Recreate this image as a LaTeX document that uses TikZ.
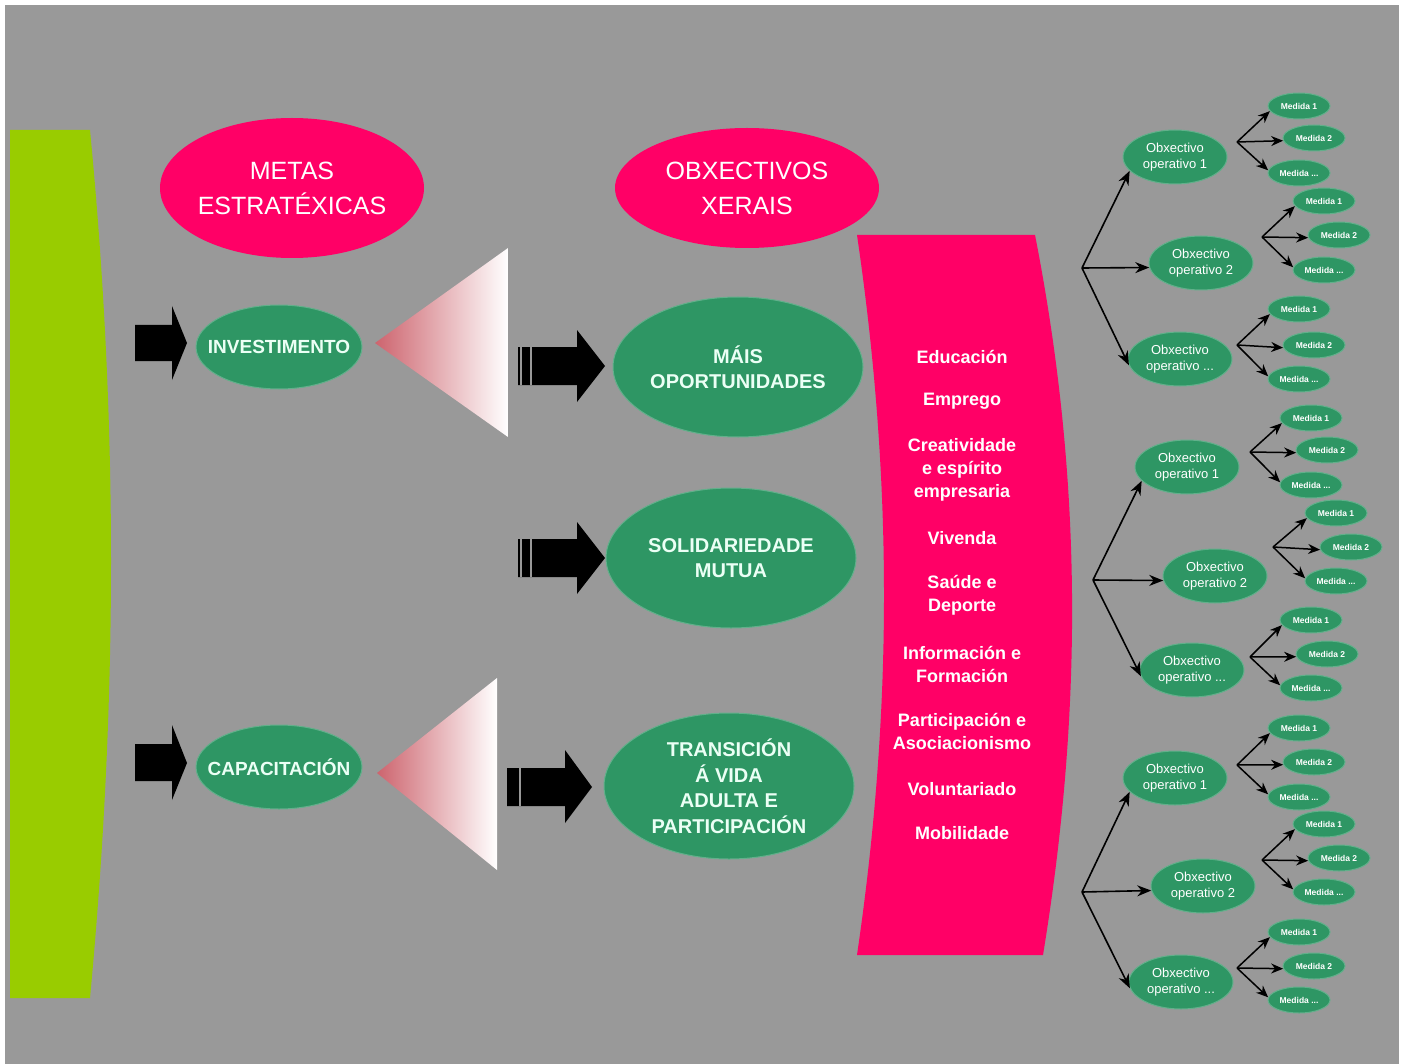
\documentclass[tikz,border=0pt]{standalone}
\usepackage{fontspec}
\setmainfont{Liberation Sans}
\usetikzlibrary{shapes.geometric,arrows.meta}
\definecolor{bggray}{RGB}{153,153,153}
\definecolor{pinkr}{RGB}{255,0,102}
\definecolor{gren}{RGB}{46,150,100}
\definecolor{lime}{RGB}{153,204,0}
\definecolor{trired}{RGB}{205,100,110}
\definecolor{gtxt}{RGB}{235,255,245}
\tikzset{
  pinkell/.style={ellipse, fill=pinkr, inner sep=0pt},
  greenell/.style={ellipse, fill=gren, draw=gren!75!white, line width=1pt, inner sep=0pt},
  titletext/.style={text=white, font=\fontsize{25}{35}\selectfont, align=center},
  gtext/.style={text=gtxt, font=\bfseries\fontsize{20}{25.5}\selectfont, align=center},
  bandtext/.style={text=white, font=\bfseries\fontsize{18}{23}\selectfont, align=center},
  opell/.style={greenell, minimum width=104pt, minimum height=54pt, text=white, font=\fontsize{13}{16}\selectfont, align=center},
  medell/.style={greenell, minimum width=62pt, minimum height=26pt, text=white, font=\bfseries\fontsize{8.5}{10}\selectfont},
  treearrow/.style={-{Stealth[length=14pt,width=11pt]}, line width=1.6pt},
  subarrow/.style={-{Stealth[length=12pt,width=10pt]}, line width=1.5pt},
  blockarrow/.style={fill=black},
  stripe/.style={draw=bggray, line width=1.2pt},
  tri/.style={left color=trired, right color=white}
}
\newcommand\mytrio[5]{%
  \coordinate (#1s) at (#2);
  \node[medell] (#1m1) at (#3) {Medida 1};
  \node[medell] (#1m2) at (#4) {Medida 2};
  \node[medell] (#1m3) at (#5) {Medida ...};
  \draw[subarrow] (#1s) -- (#1m1.190);
  \draw[subarrow] (#1s) -- (#1m2.185);
  \draw[subarrow] (#1s) -- (#1m3.175);
}
\newcommand\mygroup[5]{%
  \coordinate (#1) at (#2);
  \node[opell] (#1a) at (#3) {Obxectivo\\operativo 1};
  \node[opell] (#1b) at (#4) {Obxectivo\\operativo 2};
  \node[opell] (#1c) at (#5) {Obxectivo\\operativo ...};
  \draw[treearrow] (#1) -- (#1a.197);
  \draw[treearrow] (#1) -- (#1b.185);
  \draw[treearrow] (#1) -- (#1c.187);
}
\begin{document}
\begin{tikzpicture}[x=1pt,y=-1pt]
\useasboundingbox (0,0) rectangle (1407,1064);
\fill[white] (0,0) rectangle (1407,1064);
\fill[bggray] (5,5) rectangle (1399,1064);

% lime bar
\fill[lime] (10,130) -- (90,130) .. controls (118,420) and (118,700) .. (90,998) -- (10,998) -- cycle;

% pink band
\fill[pinkr] (857,235) -- (1035,235) .. controls (1083,480) and (1083,710) .. (1043,955) -- (857,955) .. controls (893,710) and (893,480) .. (857,235) -- cycle;

% headers
\node[pinkell, minimum width=264pt, minimum height=140pt] (metas) at (292,188) {};
\node[titletext] (metasT) at (metas) {METAS\\ESTRATÉXICAS};
\node[pinkell, minimum width=264pt, minimum height=120pt] (obx) at (747,188) {};
\node[titletext] (obxT) at (obx) {OBXECTIVOS\\XERAIS};

% left arrows
\fill[blockarrow] (135,325) -- (172,325) -- (172,306) -- (187,343) -- (172,380) -- (172,361) -- (135,361) -- cycle;
\fill[blockarrow] (135,744) -- (172,744) -- (172,725) -- (187,763) -- (172,800) -- (172,781) -- (135,781) -- cycle;

% goals
\node[greenell, minimum width=166pt, minimum height=84pt] (inv) at (279,347) {};
\node[gtext, font=\bfseries\fontsize{19}{23}\selectfont] (invT) at (inv) {INVESTIMENTO};
\node[greenell, minimum width=166pt, minimum height=84pt] (cap) at (279,767) {};
\node[gtext, font=\bfseries\fontsize{19}{23}\selectfont] (capT) at (cap) {CAPACITACIÓN};

% gradient triangles
\shade[tri] (375,343) -- (508,248) -- (508,437) -- cycle;
\shade[tri] (377,773) -- (497,678) -- (497,870) -- cycle;

% middle arrows
\fill[blockarrow] (518,347) -- (577,347) -- (577,330) -- (605,366) -- (577,402) -- (577,385) -- (518,385) -- cycle;
\draw[stripe] (521,347) -- (521,385);
\draw[stripe] (531,347) -- (531,385);
\fill[blockarrow] (518,539) -- (577,539) -- (577,522) -- (605,558) -- (577,594) -- (577,577) -- (518,577) -- cycle;
\draw[stripe] (521,539) -- (521,577);
\draw[stripe] (531,539) -- (531,577);
\fill[blockarrow] (507,768) -- (565,768) -- (565,750) -- (592,787) -- (565,823) -- (565,806) -- (507,806) -- cycle;
\draw[stripe] (520,768) -- (520,806);

% general objectives
\node[greenell, minimum width=250pt, minimum height=140pt] (mais) at (738,367) {};
\node[gtext] (maisT) at (mais) {MÁIS\\OPORTUNIDADES};
\node[greenell, minimum width=250pt, minimum height=140pt] (sol) at (731,558) {};
\node[gtext] (solT) at (sol) {SOLIDARIEDADE\\MUTUA};
\node[greenell, minimum width=250pt, minimum height=146pt] (trans) at (729,786) {};
\node[gtext] (transT) at (trans) {TRANSICIÓN\\Á VIDA\\ADULTA E\\PARTICIPACIÓN};

% band texts
\node[bandtext] (b1) at (962,357) {Educación};
\node[bandtext] (b2) at (962,401) {Emprego};
\node[bandtext] (b3) at (962,470) {Creatividade\\e espírito\\empresaria};
\node[bandtext] (b4) at (962,538) {Vivenda};
\node[bandtext] (b5) at (962,595) {Saúde e\\Deporte};
\node[bandtext] (b6) at (962,664) {Información e\\Formación};
\node[bandtext] (b7) at (962,731) {Participación e\\Asociacionismo};
\node[bandtext] (b8) at (962,789) {Voluntariado};
\node[bandtext] (b9) at (962,833) {Mobilidade};

% trees
\mygroup{ga}{1082,268}{1175,157}{1201,263}{1180,359}
\mytrio{gaa}{1237,142}{1299,106}{1314,138}{1299,173}
\mytrio{gab}{1262,237}{1324,201}{1339,235}{1324,270}
\mytrio{gac}{1237,345}{1299,309}{1314,345}{1299,379}

\mygroup{gb}{1093,580}{1187,467}{1215,576}{1192,670}
\mytrio{gba}{1250,452}{1311,418}{1327,450}{1311,485}
\mytrio{gbb}{1273,547}{1336,513}{1351,547}{1336,581}
\mytrio{gbc}{1250,657}{1311,620}{1327,654}{1311,688}

\mygroup{gc}{1082,892}{1175,778}{1203,886}{1181,982}
\mytrio{gca}{1237,765}{1299,728}{1314,762}{1299,797}
\mytrio{gcb}{1262,860}{1324,824}{1339,858}{1324,892}
\mytrio{gcc}{1237,968}{1299,932}{1314,966}{1299,1000}
\end{tikzpicture}
\end{document}
